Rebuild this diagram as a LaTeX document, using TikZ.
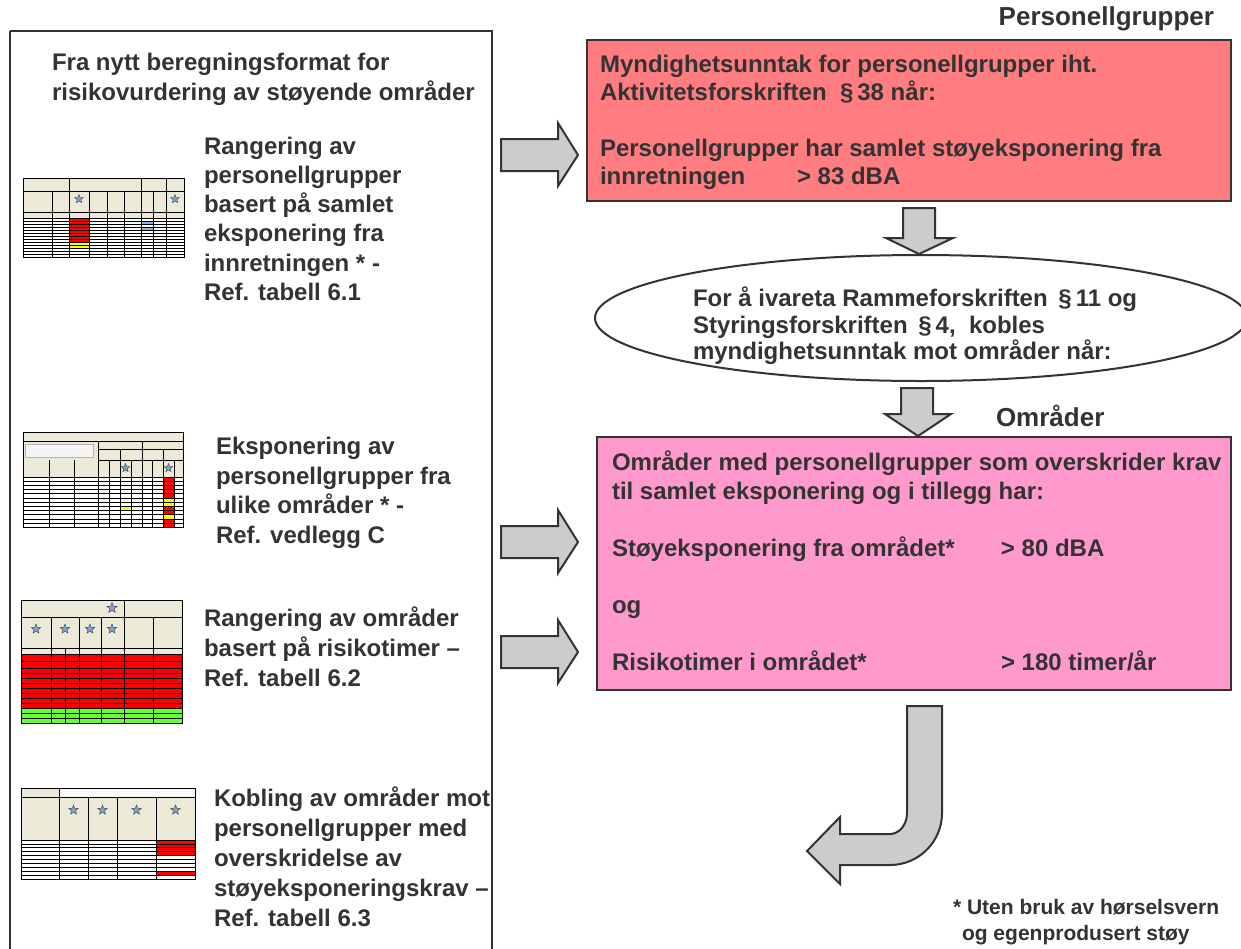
\documentclass[tikz,border=0pt]{standalone}
\usepackage{fontspec}
\setmainfont{Liberation Sans}
\usetikzlibrary{shapes.geometric}
\definecolor{tx}{HTML}{333333}
\definecolor{redbox}{HTML}{FF7C80}
\definecolor{pinkbox}{HTML}{FF99CC}
\definecolor{arrowfill}{HTML}{CCCCCC}
\definecolor{edge}{HTML}{333333}
\definecolor{beige}{HTML}{ECE9D8}
\definecolor{cellred}{HTML}{FF0000}
\definecolor{cellyellow}{HTML}{FFFF00}
\definecolor{cellgreen}{HTML}{66FF33}
\definecolor{starblue}{HTML}{7FA3D1}
\definecolor{cellblue}{HTML}{8DB4E2}
\newcommand{\rblock}[1]{\draw[blockarrow] (501,{#1-16}) -- (558,{#1-16}) -- (558,{#1-32}) -- (578,#1) -- (558,{#1+31}) -- (558,{#1+16}) -- (501,{#1+16}) -- cycle;}
\begin{document}
\begin{tikzpicture}[x=1pt,y=-1pt,
  txt/.style={inner sep=0pt, outer sep=0pt, text=tx, align=left, anchor=north west,
    font=\fontsize{24}{30}\selectfont\bfseries},
  box/.style={draw=edge, line width=2.4pt},
  blockarrow/.style={fill=arrowfill, draw=edge, line width=2pt, line join=miter},
  thl/.style={draw=black, line width=0.8pt},
  thr/.style={draw=black, line width=0.7pt},
  tstar/.style={star, star points=5, star point ratio=2.3, fill=starblue, draw=black!75,
    line width=0.4pt, inner sep=0pt, minimum size=9pt}]
\useasboundingbox (0,0) rectangle (1241,948);
\fill[white] (0,0) rectangle (1241,948);

% left frame
\draw[box] (10,31) -- (492,31) -- (492,960) (10,960) -- (10,31);

\node[txt] (hdr) at (52,53) {Fra nytt beregningsformat for\\risikovurdering av støyende områder};
\node[txt, font=\fontsize{24}{29.2}\selectfont\bfseries] (t1) at (204,137)
  {Rangering av\\personellgrupper\\basert på samlet\\eksponering fra\\innretningen * -\\Ref. tabell 6.1};
\node[txt, font=\fontsize{24}{29.7}\selectfont\bfseries] (t2) at (216,437)
  {Eksponering av\\personellgrupper fra\\ulike områder * -\\Ref. vedlegg C};
\node[txt] (t3) at (204,607)
  {Rangering av områder\\basert på risikotimer –\\Ref. tabell 6.2};
\node[txt] (t4) at (214,787)
  {Kobling av områder mot\\personellgrupper med\\overskridelse av\\støyeksponeringskrav –\\Ref. tabell 6.3};

% thumbnail 1
\fill[beige] (23,178) rectangle (184,218);
\fill[cellred] (69,219) rectangle (89,243);
\fill[cellyellow] (69,243) rectangle (89,249);
\fill[cellblue] (141,221) rectangle (153,224);
\fill[cellblue] (141,227) rectangle (153,230);
\draw[thl] (23,178) rectangle (184,257);
\draw[thl] (23,191) -- (184,191) (23,212) -- (184,212) (23,218) -- (184,218);
\foreach \x in {69,141,166} \draw[thl] (\x,178) -- (\x,257);
\foreach \x in {52,89,107,124,153} \draw[thl] (\x,191) -- (\x,257);
\foreach \y in {221,224,...,255} \draw[thr] (23,\y) -- (184,\y);
\node[tstar] (s11) at (79,199) {};
\node[tstar] (s12) at (175,199) {};

% thumbnail 2
\fill[beige] (23,432) rectangle (183,477);
\filldraw[fill=gray!8, draw=gray!60, line width=0.5pt] (25,444) rectangle (93,457);
\fill[cellred] (163,478) rectangle (174,527);
\fill[cellyellow] (163,498) rectangle (174,506);
\fill[cellyellow] (163,514) rectangle (174,519);
\fill[cellyellow] (120,506) rectangle (131,510);
\draw[thl] (23,432) rectangle (183,527);
\draw[thl] (23,441) -- (183,441) (98,449) -- (183,449) (98,460) -- (183,460) (23,477) -- (183,477);
\foreach \x in {98,142} \draw[thl] (\x,441) -- (\x,527);
\foreach \x in {120,163} \draw[thl] (\x,449) -- (\x,527);
\foreach \x in {49,74,109,131,152,174} \draw[thl] (\x,460) -- (\x,527);
\foreach \y in {481.2,485.4,...,524} \draw[thr] (23,\y) -- (183,\y);
\node[tstar] (s21) at (125.5,468) {};
\node[tstar] (s22) at (168.5,468) {};

% thumbnail 3
\fill[beige] (21,600) rectangle (182,654);
\fill[cellred] (21,655) rectangle (182,708);
\fill[cellgreen] (21,708) rectangle (182,723);
\draw[thl] (21,600) rectangle (182,723);
\draw[thl] (21,617) -- (182,617) (21,648) -- (182,648) (21,654) -- (182,654);
\draw[thl] (124,600) -- (124,723);
\foreach \x in {51,79,101,153} \draw[thl] (\x,617) -- (\x,723);
\draw[thl] (65,648) -- (65,723);
\foreach \y in {661,668,673,678,683,688,693,698,703,708,713,718} \draw[thr] (21,\y) -- (182,\y);
\foreach \x/\n in {36/a,65/b,90/c,112/d} \node[tstar, minimum size=10pt] (s3\n) at (\x,629) {};
\node[tstar, minimum size=11pt] (s3e) at (112,608) {};

% thumbnail 4
\fill[beige] (21,788) rectangle (195,840);
\fill[gray!6] (59,788) rectangle (195,797);
\fill[cellred] (156,840) rectangle (195,856);
\fill[cellred] (156,871) rectangle (195,875);
\draw[thl] (21,788) rectangle (195,879);
\draw[thl] (21,797) -- (195,797) (21,840) -- (195,840) (59,788) -- (59,879);
\foreach \x in {88,117,156} \draw[thl] (\x,797) -- (\x,879);
\foreach \y in {843.9,847.8,...,876} \draw[thr] (21,\y) -- (195,\y);
\foreach \x/\n in {73.5/a,102.5/b,136.5/c,175.5/d} \node[tstar, minimum size=10pt] (s4\n) at (\x,810) {};

% right side arrows
\rblock{155}
\rblock{542}
\rblock{652}

% red box
\node[txt, font=\fontsize{26}{30}\selectfont\bfseries, anchor=north east] (lab1) at (1214,7) {Personellgrupper};
\draw[box, fill=redbox] (587,40) rectangle (1231,201);
\node[txt, font=\fontsize{24}{28}\selectfont\bfseries] (rt) at (600,55)
  {Myndighetsunntak for personellgrupper iht.\\Aktivitetsforskriften \ §\,38 når:\\[28pt]Personellgrupper har samlet støyeksponering fra\\\makebox[197pt][l]{innretningen}> 83 dBA};

% down arrow 1
\draw[blockarrow] (903,208) -- (935,208) -- (935,238) -- (953,238) -- (919,254) -- (886,238) -- (903,238) -- cycle;

% ellipse
\node[draw=edge, line width=2pt, fill=white, ellipse, minimum width=652pt, minimum height=126pt, inner sep=0pt] (ell) at (921,318) {};
\node[txt, font=\fontsize{24}{26.5}\selectfont\bfseries] (et) at (693,287)
  {For å ivareta Rammeforskriften \,§\,11 og\\Styringsforskriften \,§\,4, \ kobles\\myndighetsunntak mot områder når:};

% down arrow 2
\draw[blockarrow] (901,388) -- (933,388) -- (933,414) -- (951,414) -- (918,436) -- (885,414) -- (901,414) -- cycle;

% pink box
\node[txt, font=\fontsize{26}{30}\selectfont\bfseries] (lab2) at (996,405) {Områder};
\draw[box, fill=pinkbox] (597,437) rectangle (1231,690);
\node[txt, font=\fontsize{24}{28.5}\selectfont\bfseries] (pt) at (612,451)
  {Områder med personellgrupper som overskrider krav\\til samlet eksponering og i tillegg har:\\[28.5pt]\makebox[389pt][l]{Støyeksponering fra området*}> 80 dBA\\[28.5pt]og\\[28.5pt]\makebox[389pt][l]{Risikotimer i området*}> 180 timer/år};

% curved arrow
\draw[blockarrow] (907,706) -- (942,706) -- (942,813) arc[start angle=0, end angle=90, radius=52]
  -- (840,865) -- (840,884) -- (807,851) -- (840,817) -- (840,834) -- (890,834)
  arc[start angle=90, end angle=0, x radius=17, y radius=21] -- cycle;

% footnote
\node[txt, font=\fontsize{21}{26}\selectfont\bfseries] (fn) at (953,899)
  {* Uten bruk av hørselsvern\\\hspace*{9pt}og egenprodusert støy};
\end{tikzpicture}
\end{document}
